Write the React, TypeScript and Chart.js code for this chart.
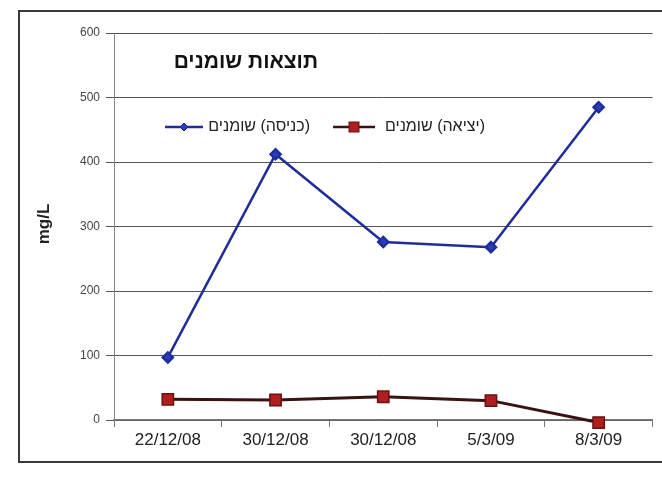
import React, { useEffect, useRef } from 'react';
import { Chart, registerables } from 'chart.js';

Chart.register(...registerables);

const categories = ['22/12/08', '30/12/08', '30/12/08', '5/3/09', '8/3/09'];
const inletValues = [97, 412, 276, 268, 485];
const outletValues = [32, 31, 36, 30, -4];
const inletLabel = '(כניסה) שומנים';
const outletLabel = '(יציאה) שומנים';
const titleText = 'תוצאות שומנים';
const yAxisTitle = 'mg/L';
const yMin = 0;
const yMax = 600;
const yStep = 100;

const FONT = '"Liberation Sans", Arial, sans-serif';

const overlayPlugin = {
  id: 'overlay',
  beforeDraw(chart: any) {
    const ctx = chart.ctx;
    ctx.save();
    ctx.fillStyle = '#ffffff';
    ctx.fillRect(0, 0, chart.width, chart.height);
    ctx.restore();
  },
  afterDraw(chart: any) {
    const ctx = chart.ctx;
    ctx.save();
    // frame
    ctx.strokeStyle = '#3a3a3a';
    ctx.lineWidth = 2;
    ctx.strokeRect(19, 11, 670, 451);

    // title
    ctx.fillStyle = '#111111';
    ctx.font = 'bold 21px ' + FONT;
    ctx.direction = 'rtl';
    ctx.textAlign = 'right';
    ctx.textBaseline = 'middle';
    ctx.fillText(titleText, 318, 62);

    // legend
    const items = [
      { ds: chart.data.datasets[0], x0: 165, x1: 203, textRight: 310 },
      { ds: chart.data.datasets[1], x0: 333, x1: 375, textRight: 485 },
    ];
    const ly = 127;
    items.forEach((it) => {
      const ds: any = it.ds;
      ctx.strokeStyle = ds.borderColor;
      ctx.lineWidth = 2.5;
      ctx.beginPath();
      ctx.moveTo(it.x0, ly);
      ctx.lineTo(it.x1, ly);
      ctx.stroke();
      const cx = (it.x0 + it.x1) / 2;
      ctx.fillStyle = ds.pointBackgroundColor;
      ctx.strokeStyle = ds.pointBorderColor;
      ctx.lineWidth = 1;
      if (ds.pointStyle === 'rectRot') {
        const r = 4;
        ctx.beginPath();
        ctx.moveTo(cx, ly - r);
        ctx.lineTo(cx + r, ly);
        ctx.lineTo(cx, ly + r);
        ctx.lineTo(cx - r, ly);
        ctx.closePath();
        ctx.fill();
        ctx.stroke();
      } else {
        const s = 5;
        ctx.fillRect(cx - s, ly - s, 2 * s, 2 * s);
        ctx.strokeRect(cx - s, ly - s, 2 * s, 2 * s);
      }
      ctx.fillStyle = '#222222';
      ctx.font = '16px ' + FONT;
      ctx.direction = 'rtl';
      ctx.textAlign = 'right';
      ctx.textBaseline = 'middle';
      ctx.fillText(ds.label, it.textRight, ly);
    });

    // y axis title
    ctx.translate(44, 224);
    ctx.rotate(-Math.PI / 2);
    ctx.direction = 'ltr';
    ctx.textAlign = 'center';
    ctx.textBaseline = 'middle';
    ctx.font = 'bold 17px ' + FONT;
    ctx.fillStyle = '#222222';
    ctx.fillText(yAxisTitle, 0, 0);
    ctx.restore();
  },
};

export default function App() {
  const canvasRef = useRef<HTMLCanvasElement | null>(null);

  useEffect(() => {
    document.body.style.margin = '0';
    const canvas = canvasRef.current;
    if (!canvas) return;
    const chart = new Chart(canvas, {
      type: 'line',
      data: {
        labels: categories,
        datasets: [
          {
            label: inletLabel,
            data: inletValues,
            borderColor: '#1f2d9c',
            backgroundColor: '#1f2d9c',
            pointBackgroundColor: '#2a3cc0',
            pointBorderColor: '#1f2d9c',
            pointStyle: 'rectRot',
            pointRadius: 5,
            borderWidth: 2.5,
            tension: 0,
            clip: false,
          } as any,
          {
            label: outletLabel,
            data: outletValues,
            borderColor: '#3b1212',
            backgroundColor: '#3b1212',
            pointBackgroundColor: '#b01e1e',
            pointBorderColor: '#6a1010',
            pointStyle: 'rect',
            pointRadius: 8,
            pointBorderWidth: 1.5,
            borderWidth: 3,
            tension: 0,
            clip: false,
          } as any,
        ],
      },
      options: {
        responsive: false,
        animation: false,
        layout: { padding: { top: 33, right: 6, left: 0, bottom: 0 } },
        plugins: {
          legend: { display: false },
          title: { display: false },
          tooltip: { enabled: false },
        },
        scales: {
          x: {
            offset: true,
            afterFit: (s: any) => {
              s.height = 71;
            },
            grid: {
              display: true,
              drawOnChartArea: false,
              drawTicks: true,
              tickLength: 7,
              color: '#777777',
              offset: true,
            },
            border: { display: true, color: '#777777', width: 1.5 },
            ticks: {
              color: '#222222',
              font: { family: FONT, size: 17 },
              padding: 3,
              maxRotation: 0,
            },
          },
          y: {
            min: yMin,
            max: yMax,
            afterFit: (s: any) => {
              s.width = 114;
            },
            grid: {
              color: '#555555',
              lineWidth: 1,
              tickLength: 8,
              drawTicks: true,
            },
            border: { display: true, color: '#888888', width: 1 },
            ticks: {
              stepSize: yStep,
              color: '#444444',
              font: { family: FONT, size: 12 },
              padding: 6,
            },
          },
        },
      },
      plugins: [overlayPlugin],
    });
    return () => chart.destroy();
  }, []);

  return (
    <div style={{ width: 662, height: 491 }}>
      <canvas ref={canvasRef} width={662} height={491} style={{ display: 'block' }} />
    </div>
  );
}
